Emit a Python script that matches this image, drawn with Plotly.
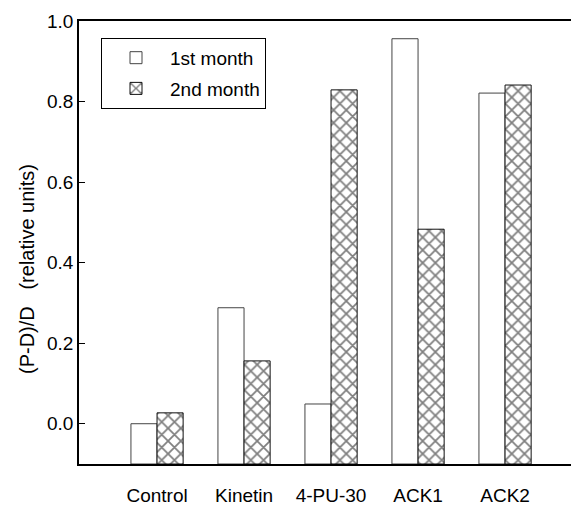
import plotly.graph_objects as go

categories = ["Control", "Kinetin", "4-PU-30", "ACK1", "ACK2"]
first_month = [0.0, 0.288, 0.049, 0.956, 0.821]
second_month = [0.027, 0.156, 0.829, 0.483, 0.841]
y_ticks = [0.0, 0.2, 0.4, 0.6, 0.8, 1.0]
y_tick_labels = ["0.0", "0.2", "0.4", "0.6", "0.8", "1.0"]
BASE = -0.1

FONT = "Liberation Sans, Arial, sans-serif"

fig = go.Figure()
fig.add_trace(go.Bar(
    name="1st month", x=categories, y=[v - BASE for v in first_month], base=BASE,
    legendgroup="a",
    marker=dict(color="white", line=dict(color="#444444", width=1)),
))
fig.add_trace(go.Bar(
    name="2nd month", x=categories, y=[v - BASE for v in second_month], base=BASE,
    legendgroup="b",
    marker=dict(color="white", line=dict(color="#111111", width=1),
                pattern=dict(shape="x", fgcolor="black", bgcolor="white", size=9, solidity=0.35)),
))

# page body has an 8px default margin, so the figure is 8px smaller and margins reduced by 8
fig.update_layout(
    width=571, height=500,
    margin=dict(l=71, r=0, t=13, b=44),
    paper_bgcolor="white", plot_bgcolor="white",
    barmode="group", bargap=0.40, bargroupgap=0.0,
    font=dict(family=FONT, size=19, color="black"),
    showlegend=True,
    legend=dict(x=0.044, y=0.962, xanchor="left", yanchor="top",
                bordercolor="black", borderwidth=1, bgcolor="white",
                font=dict(family=FONT, size=19, color="black"),
                traceorder="grouped", tracegroupgap=3, itemwidth=58),
    xaxis=dict(type="category", range=[-0.897, 4.85], showline=True, linecolor="black",
               linewidth=1.5, mirror=True, ticks="", showgrid=False, zeroline=False,
               automargin=False,
               tickfont=dict(family=FONT, size=19), ticklabelstandoff=13),
    yaxis=dict(range=[-0.1, 1.0], tickvals=y_ticks, ticktext=y_tick_labels,
               showline=True, linecolor="black", linewidth=1.5, mirror="ticks",
               ticks="inside", ticklen=6, tickcolor="black", tickwidth=1,
               automargin=False,
               showgrid=False, zeroline=False, tickfont=dict(family=FONT, size=19)),
    annotations=[dict(text="(P-D)/D\u00a0\u00a0\u00a0(relative units)", textangle=-90,
                      xref="paper", yref="paper", x=(27 - 79) / 500, y=(464 - 269) / 443,
                      xanchor="center", yanchor="middle", showarrow=False,
                      font=dict(family=FONT, size=20, color="black"))],
)

fig.write_html("out.html")
